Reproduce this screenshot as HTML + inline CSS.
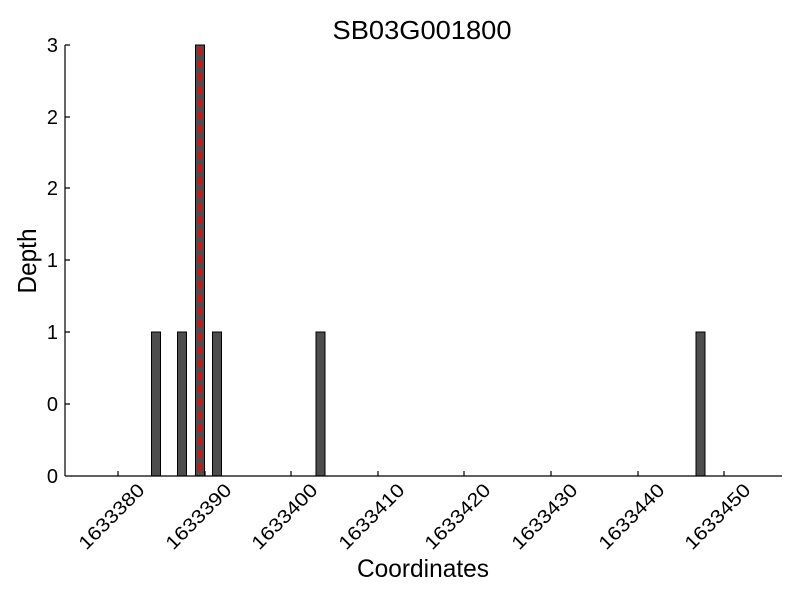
<!DOCTYPE html>
<html><head><meta charset="utf-8"><style>body{margin:0;background:#fff}svg{display:block}text{font-family:"Liberation Sans",sans-serif;fill:#000}</style></head>
<body>
<svg width="800" height="600" viewBox="0 0 800 600">
<rect width="800" height="600" fill="#fff"/>
<g fill="#4d4d4d" stroke="#000" stroke-width="1">
<rect x="151.5" y="332" width="9" height="144"/>
<rect x="177.5" y="332" width="9" height="144"/>
<rect x="195.5" y="45" width="9" height="431"/>
<rect x="212.5" y="332" width="9" height="144"/>
<rect x="316" y="332" width="9" height="144"/>
<rect x="696" y="332" width="9" height="144"/>
</g>
<line x1="200" y1="47" x2="200" y2="476" stroke="#f00" stroke-width="3" stroke-dasharray="8,5"/>
<g stroke="#000" stroke-width="1.2" fill="none">
<line x1="65" y1="45" x2="65" y2="476"/>
<line x1="65" y1="476" x2="782" y2="476"/>
<path d="M65 45h5M65 117h5M65 188h5M65 260h5M65 332h5M65 404h5"/>
<path d="M118 476v-5M205 476v-5M291 476v-5M378 476v-5M464 476v-5M551 476v-5M638 476v-5M724 476v-5"/>
</g>
<g font-size="20" text-anchor="end">
<text x="58" y="52">3</text><text x="58" y="124">2</text><text x="58" y="195">2</text>
<text x="58" y="267">1</text><text x="58" y="339">1</text><text x="58" y="411">0</text><text x="58" y="483">0</text>
</g>
<g font-size="19" text-anchor="middle">
<text transform="translate(116,521) rotate(-45)" textLength="84" lengthAdjust="spacingAndGlyphs">1633380</text>
<text transform="translate(203,521) rotate(-45)" textLength="84" lengthAdjust="spacingAndGlyphs">1633390</text>
<text transform="translate(289,521) rotate(-45)" textLength="84" lengthAdjust="spacingAndGlyphs">1633400</text>
<text transform="translate(376,521) rotate(-45)" textLength="84" lengthAdjust="spacingAndGlyphs">1633410</text>
<text transform="translate(462,521) rotate(-45)" textLength="84" lengthAdjust="spacingAndGlyphs">1633420</text>
<text transform="translate(549,521) rotate(-45)" textLength="84" lengthAdjust="spacingAndGlyphs">1633430</text>
<text transform="translate(636,521) rotate(-45)" textLength="84" lengthAdjust="spacingAndGlyphs">1633440</text>
<text transform="translate(722,521) rotate(-45)" textLength="84" lengthAdjust="spacingAndGlyphs">1633450</text>
</g>
<text x="422" y="39" font-size="26" text-anchor="middle" textLength="179" lengthAdjust="spacingAndGlyphs">SB03G001800</text>
<text x="423" y="577" font-size="25" text-anchor="middle" textLength="132" lengthAdjust="spacingAndGlyphs">Coordinates</text>
<text transform="translate(36,261) rotate(-90)" font-size="26" text-anchor="middle" textLength="65" lengthAdjust="spacingAndGlyphs">Depth</text>
</svg>
</body></html>
